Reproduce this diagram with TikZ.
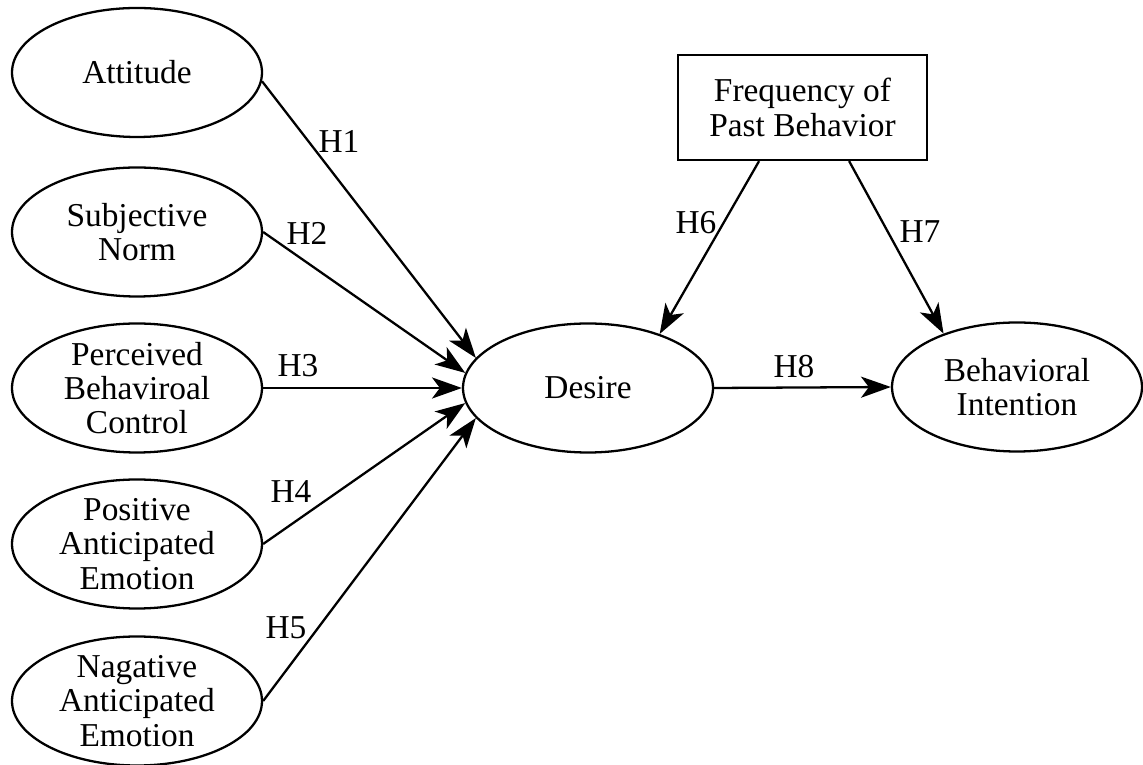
\documentclass[tikz,border=0pt]{standalone}
\usepackage{fontspec}
\setmainfont{Liberation Serif}
\usetikzlibrary{positioning,shapes,arrows.meta}

\begin{document}
\begin{tikzpicture}[
    construct/.style={ellipse, draw, line width=1.3pt, minimum width=5cm, minimum height=2.58cm,
        inner xsep=0pt, inner ysep=-8pt, align=center},
    observed/.style={rectangle, draw, line width=1.3pt, minimum width=4.98cm, minimum height=2.1cm, align=center},
    path/.style={line width=1.3pt, -{Stealth[length=17pt, width=12pt, inset=4.5pt]}},
    every node/.style={font=\fontsize{19}{19.5}\selectfont}
]
    \useasboundingbox (0,0) rectangle (22.86,15.3);

    % Antecedents of desire
    \node[construct] (att) at (2.74,13.85) {Attitude};
    \node[construct] (sn)  at (2.74,10.66) {Subjective\\Norm};
    \node[construct] (pbc) at (2.74,7.54)  {Perceived\\Behaviroal\\Control};
    \node[construct] (pae) at (2.74,4.42)  {Positive\\Anticipated\\Emotion};
    \node[construct] (nae) at (2.74,1.28)  {Nagative\\Anticipated\\Emotion};

    % Desire, intention and past behavior
    \node[construct] (des) at (11.76,7.54) {Desire};
    \node[construct] (bi)  at (20.34,7.56) {Behavioral\\Intention};
    \node[observed]  (fpb) at (16.05,13.15) {Frequency of\\Past Behavior};

    % Hypothesised paths
    \draw[path] (att.-4) -- (des.165);
    \draw[path] (sn.east) -- (des.173);
    \draw[path] (pbc.east) -- (des.180);
    \draw[path] (pae.east) -- (des.187);
    \draw[path] (nae.east) -- (des.195);
    \draw[path] (fpb.-129) -- (des.37);
    \draw[path] (fpb.-49) -- (bi.144);
    \draw[path] (des.east) -- (bi.west);

    % Path labels
    \node (h1) at (6.78,12.48) {H1};
    \node (h2) at (6.14,10.64) {H2};
    \node (h3) at (5.96,7.99)  {H3};
    \node (h4) at (5.82,5.46)  {H4};
    \node (h5) at (5.72,2.74)  {H5};
    \node (h6) at (13.92,10.84) {H6};
    \node (h7) at (18.40,10.66) {H7};
    \node (h8) at (15.88,7.96) {H8};
\end{tikzpicture}
\end{document}
